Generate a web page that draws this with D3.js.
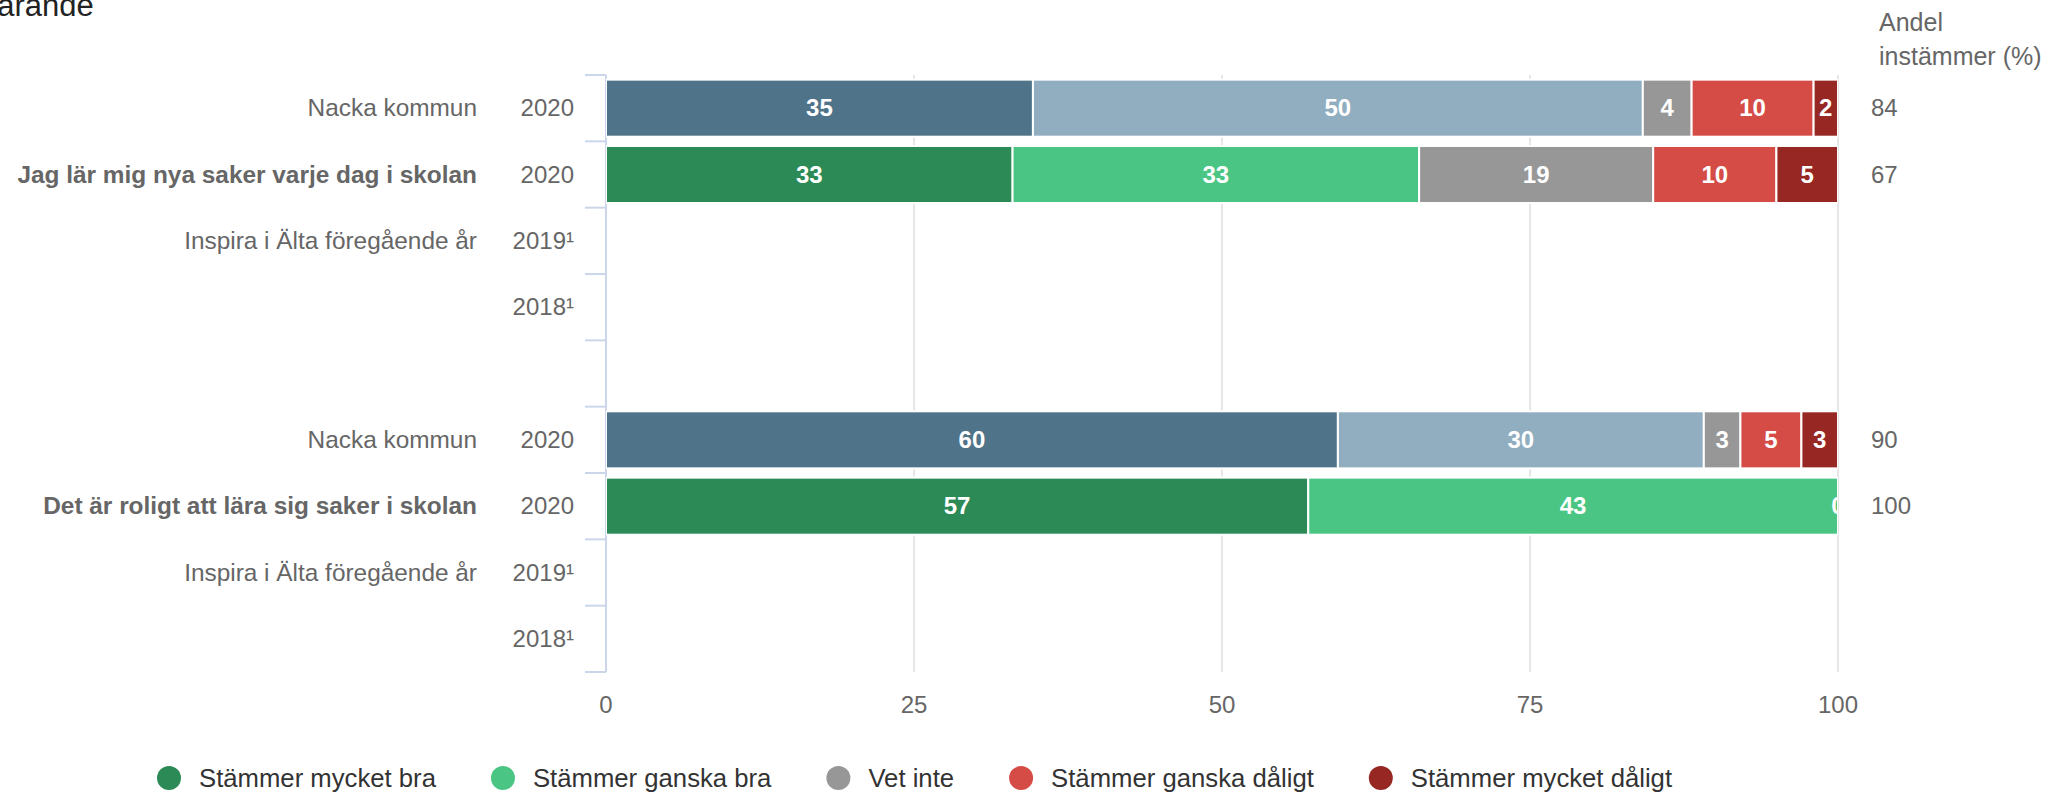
<!DOCTYPE html>
<html>
<head>
<meta charset="utf-8">
<script src="https://cdn.jsdelivr.net/npm/d3@7"></script>
<style>
  body { margin: 0; background: #fff; }
  svg { display: block; font-family: "Liberation Sans", Arial, sans-serif; }
</style>
</head>
<body>
<div id="chart"></div>
<script>
// answer categories (stack order, left to right)
var answers = ['Stämmer mycket bra', 'Stämmer ganska bra', 'Vet inte', 'Stämmer ganska dåligt', 'Stämmer mycket dåligt'];

// one row per line of the chart, the empty string is the gap between the two questions
var rowLabels = ['Nacka kommun', 'Jag lär mig nya saker varje dag i skolan', 'Inspira i Älta föregående år', '',
                 '',
                 'Nacka kommun', 'Det är roligt att lära sig saker i skolan', 'Inspira i Älta föregående år', ''];
var rowYears = ['2020', '2020', '2019¹', '2018¹', '', '2020', '2020', '2019¹', '2018¹'];
var boldRows = [1, 6];
var nackaRows = [0, 5];

// answers in percent, null = no data that year
var rowValues = [
  [35, 50, 4, 10, 2],
  [33, 33, 19, 10, 5],
  null,
  null,
  null,
  [60, 30, 3, 5, 3],
  [57, 43, 0, 0, 0],
  null,
  null
];
var agreeShare = [84, 67, null, null, null, 90, 100, null, null];

var xTicks = [0, 25, 50, 75, 100];

var schoolColors = ['#2b8a55', '#4ac583', '#979797', '#d54b46', '#962723'];
var nackaColors = ['#4f7389', '#90aec0', '#979797', '#d54b46', '#962723'];

var w = 2065;
var h = 795;

var svg = d3.select('#chart')
  .append('svg')
  .attr('width', w)
  .attr('height', h);

var x = d3.scaleLinear()
  .domain([0, 100])
  .range([606, 1838]);

var y = d3.scaleBand()
  .domain(d3.range(rowLabels.length))
  .range([75, 672])
  .paddingInner(0.14)
  .paddingOuter(0.07);

var step = y.step();
var top0 = y.range()[0];

// title, cut at the left edge like the original
svg.append('text')
  .attr('x', -20)
  .attr('y', 16)
  .attr('font-size', '31px')
  .attr('fill', '#222')
  .text('Lärande');

// vertical grid
svg.append('g')
  .selectAll('line')
  .data(xTicks.slice(1))
  .enter()
  .append('line')
  .attr('x1', function(d) { return x(d); })
  .attr('x2', function(d) { return x(d); })
  .attr('y1', top0)
  .attr('y2', y.range()[1])
  .attr('stroke', '#e6e6e6')
  .attr('stroke-width', 2);

// x tick labels
svg.append('g')
  .selectAll('text')
  .data(xTicks)
  .enter()
  .append('text')
  .attr('x', function(d) { return x(d); })
  .attr('y', 713)
  .attr('text-anchor', 'middle')
  .attr('font-size', '24px')
  .attr('fill', '#666')
  .text(function(d) { return d; });

// y axis line and ticks between rows
svg.append('line')
  .attr('x1', x(0)).attr('x2', x(0))
  .attr('y1', top0).attr('y2', y.range()[1])
  .attr('stroke', '#ccd6eb')
  .attr('stroke-width', 2);

svg.append('g')
  .selectAll('line')
  .data(d3.range(rowLabels.length + 1))
  .enter()
  .append('line')
  .attr('x1', x(0) - 21)
  .attr('x2', x(0))
  .attr('y1', function(i) { return top0 + i * step; })
  .attr('y2', function(i) { return top0 + i * step; })
  .attr('stroke', '#ccd6eb')
  .attr('stroke-width', 2);

// row labels
var rows = d3.range(rowLabels.length);

svg.append('g')
  .selectAll('text')
  .data(rows)
  .enter()
  .append('text')
  .attr('x', 477)
  .attr('y', function(i) { return y(i) + y.bandwidth() / 2 + 8; })
  .attr('text-anchor', 'end')
  .attr('font-size', '24.4px')
  .attr('font-weight', function(i) { return boldRows.indexOf(i) >= 0 ? 'bold' : 'normal'; })
  .attr('fill', '#666')
  .text(function(i) { return rowLabels[i]; });

svg.append('g')
  .selectAll('text')
  .data(rows)
  .enter()
  .append('text')
  .attr('x', 574)
  .attr('y', function(i) { return y(i) + y.bandwidth() / 2 + 8; })
  .attr('text-anchor', 'end')
  .attr('font-size', '24px')
  .attr('fill', '#666')
  .text(function(i) { return rowYears[i]; });

// stacked bars, normalised to 100 %
var segments = [];
rowValues.forEach(function(vals, i) {
  if (!vals) return;
  var total = d3.sum(vals);
  var acc = 0;
  var zeroShown = false;
  vals.forEach(function(v, j) {
    var showLabel = true;
    if (v === 0) {
      // zero labels sit on top of each other, only one is drawn
      showLabel = !zeroShown;
      zeroShown = true;
    }
    segments.push({
      row: i,
      k: j,
      value: v,
      x0: acc / total * 100,
      x1: (acc + v) / total * 100,
      show: showLabel
    });
    acc += v;
  });
});

svg.append('defs')
  .append('clipPath')
  .attr('id', 'plot-clip')
  .append('rect')
  .attr('x', x(0))
  .attr('y', top0)
  .attr('width', x(100) - x(0))
  .attr('height', y.range()[1] - top0);

var plot = svg.append('g')
  .attr('clip-path', 'url(#plot-clip)');

plot.selectAll('rect')
  .data(segments.filter(function(d) { return d.value > 0; }))
  .enter()
  .append('rect')
  .attr('x', function(d) { return x(d.x0); })
  .attr('y', function(d) { return y(d.row); })
  .attr('width', function(d) { return x(d.x1) - x(d.x0); })
  .attr('height', y.bandwidth())
  .attr('fill', function(d) {
    return nackaRows.indexOf(d.row) >= 0 ? nackaColors[d.k] : schoolColors[d.k];
  })
  .attr('stroke', '#fff')
  .attr('stroke-width', 2);

plot.selectAll('text')
  .data(segments.filter(function(d) { return d.show; }))
  .enter()
  .append('text')
  .attr('x', function(d) { return (x(d.x0) + x(d.x1)) / 2; })
  .attr('y', function(d) { return y(d.row) + y.bandwidth() / 2 + 8; })
  .attr('text-anchor', 'middle')
  .attr('font-size', '24px')
  .attr('font-weight', 'bold')
  .attr('fill', '#fff')
  .text(function(d) { return d.value; });

// share that agrees, right column
svg.append('text')
  .attr('x', 1879)
  .attr('font-size', '25px')
  .attr('fill', '#666')
  .selectAll('tspan')
  .data(['Andel', 'instämmer (%)'])
  .enter()
  .append('tspan')
  .attr('x', 1879)
  .attr('y', function(d, i) { return 31 + i * 34; })
  .text(function(d) { return d; });

svg.append('g')
  .selectAll('text')
  .data(rows.filter(function(i) { return agreeShare[i] !== null; }))
  .enter()
  .append('text')
  .attr('x', 1871)
  .attr('y', function(i) { return y(i) + y.bandwidth() / 2 + 8; })
  .attr('font-size', '24px')
  .attr('fill', '#666')
  .text(function(i) { return agreeShare[i]; });

// legend
var legend = svg.append('g');
var lx = 169;
answers.forEach(function(name, j) {
  legend.append('circle')
    .attr('cx', lx)
    .attr('cy', 778)
    .attr('r', 12)
    .attr('fill', schoolColors[j]);
  var t = legend.append('text')
    .attr('x', lx + 30)
    .attr('y', 787)
    .attr('font-size', '25.7px')
    .attr('fill', '#333')
    .text(name);
  lx = lx + 30 + t.node().getComputedTextLength() + 67;
});
</script>
</body>
</html>
